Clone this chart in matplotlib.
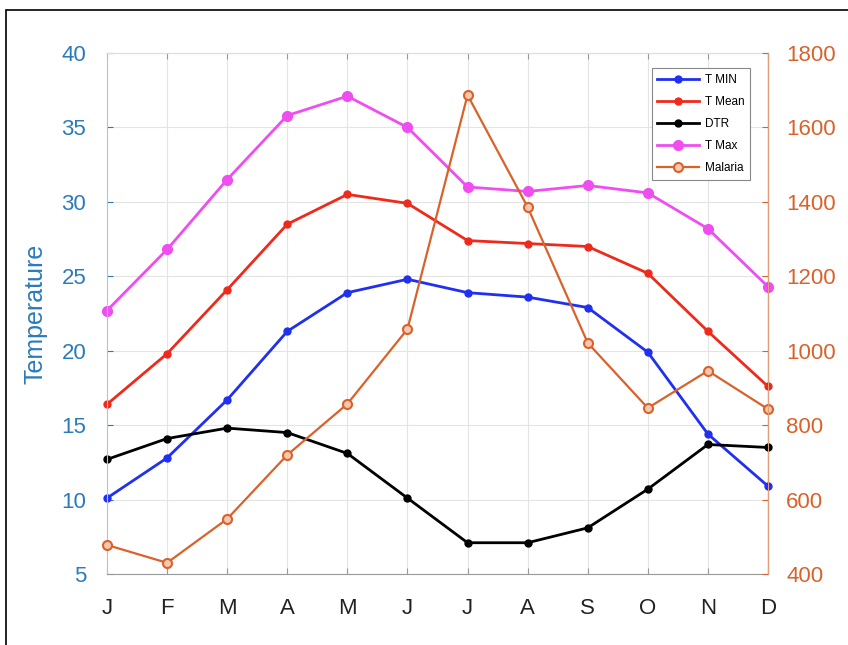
import numpy as np
from matplotlib import pyplot as plt
from matplotlib.patches import Rectangle

plt.rcParams['font.family'] = ['Liberation Sans', 'DejaVu Sans']

## monthly values
Months = ['J', 'F', 'M', 'A', 'M', 'J', 'J', 'A', 'S', 'O', 'N', 'D']
TMin = [10.1, 12.8, 16.7, 21.3, 23.9, 24.8, 23.9, 23.6, 22.9, 19.9, 14.4, 10.9]
TMean = [16.4, 19.8, 24.1, 28.5, 30.5, 29.9, 27.4, 27.2, 27.0, 25.2, 21.3, 17.6]
DTR = [12.7, 14.1, 14.8, 14.5, 13.1, 10.1, 7.1, 7.1, 8.1, 10.7, 13.7, 13.5]
TMax = [22.7, 26.8, 31.5, 35.8, 37.1, 35.0, 31.0, 30.7, 31.1, 30.6, 28.2, 24.3]
Malaria = [478, 430, 548, 720, 857, 1058, 1687, 1386, 1021, 846, 946, 843]

x = np.arange(1, 13)
blueAx = '#2b7bba'
orangeAx = '#d9622b'

fig = plt.figure(figsize=(8.48, 6.45), dpi=100)
## outer frame of the original figure
fig.patches.append(Rectangle((6/848., -0.1), 1.2, 1.1 - 10/645., transform=fig.transFigure,
                             fill=False, edgecolor='k', linewidth=1.2))

ax = fig.add_axes([107/848., 1-574/645., 661/848., 521/645.])
l1, = ax.plot(x, TMin, '-o', color='#2030f0', lw=2, ms=5, label='T MIN', clip_on=False)
l2, = ax.plot(x, TMean, '-o', color='#ee2a1c', lw=2, ms=5, label='T Mean', clip_on=False)
l3, = ax.plot(x, DTR, '-o', color='black', lw=2, ms=5, label='DTR', clip_on=False)
l4, = ax.plot(x, TMax, '-o', color='#ee4ef0', lw=2, ms=7, label='T Max', clip_on=False)
ax.set_xlim(1, 12)
ax.set_ylim(5, 40)
ax.set_yticks(np.arange(5, 41, 5))
ax.set_xticks(x)
ax.set_xticklabels(Months)
ax.grid(True, color='#e4e4e4', lw=0.8)
ax.tick_params(axis='y', colors=blueAx, labelsize=16, direction='in', length=4, pad=15)
ax.tick_params(axis='x', colors='#999999', labelcolor='#222222', labelsize=16,
               direction='in', length=4, top=True, pad=17)
ax.set_ylabel('Temperature', color=blueAx, fontsize=18, labelpad=10)
ax.spines['left'].set_color('#a8c8e0')
ax.spines['bottom'].set_color('#999999')
ax.spines['top'].set_color('#dddddd')

ax2 = ax.twinx()
l5, = ax2.plot(x, Malaria, '-o', color=orangeAx, lw=1.6, ms=6.5, mfc='#f6c8b0',
               mew=1.5, label='Malaria', clip_on=False)
ax2.set_ylim(400, 1800)
ax2.set_yticks(np.arange(400, 1801, 200))
ax2.tick_params(axis='y', colors=orangeAx, labelsize=16, direction='in', length=4, pad=13)
ax2.spines['right'].set_color('#e0a080')
ax2.spines['left'].set_visible(False)
ax2.spines['top'].set_visible(False)
ax2.spines['bottom'].set_visible(False)

leg = ax2.legend(handles=[l1, l2, l3, l4, l5], loc='upper right',
                 bbox_to_anchor=(0.973, 0.971), borderaxespad=0, fontsize=8.5,
                 handlelength=3.5, fancybox=False, edgecolor='#888888', framealpha=1,
                 borderpad=0.5, labelspacing=0.85, handletextpad=0.5)
leg.get_frame().set_linewidth(0.8)

fig.savefig('out.png', dpi=100)
